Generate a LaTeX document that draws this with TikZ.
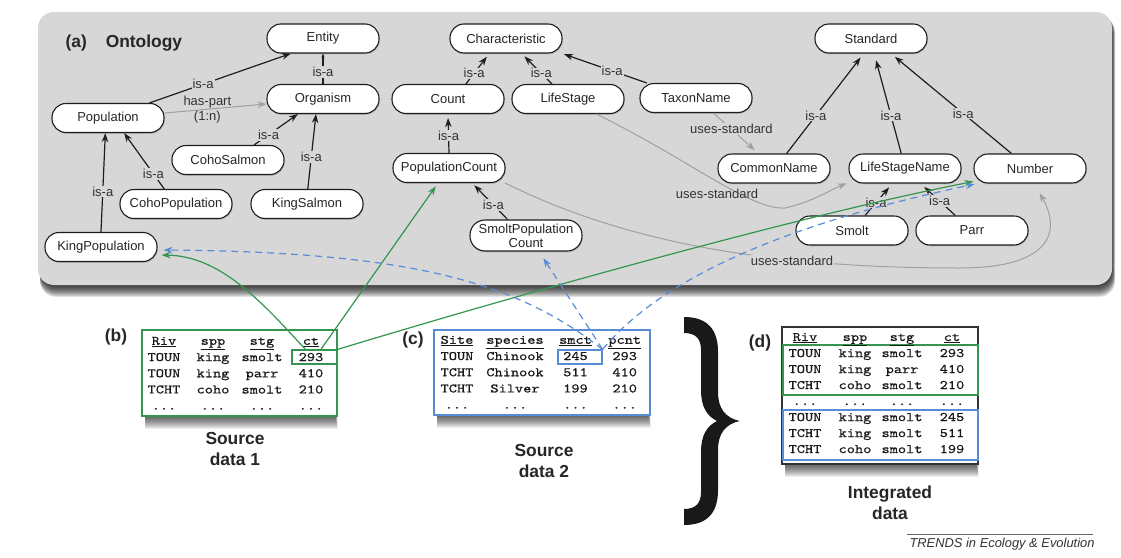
\documentclass[tikz,border=0pt]{standalone}
\usepackage{fontspec}
\setmainfont{Liberation Sans}
\setmonofont[FakeStretch=1.2,FakeBold=0.6]{lmmono10-regular.otf}
\usetikzlibrary{arrows.meta,shadows}

\definecolor{panel}{RGB}{215,215,215}
\definecolor{gline}{RGB}{160,160,160}
\definecolor{grn}{RGB}{52,150,78}
\definecolor{blu}{RGB}{88,140,215}
\definecolor{dark}{RGB}{30,30,30}

\tikzset{
 onto/.style={draw=dark, line width=1.1pt, fill=white, rounded corners=14pt,
   minimum width=112pt, minimum height=29pt, inner sep=0pt, align=center,
   font=\fontsize{13}{14}\selectfont, text=black!85,
   drop shadow={shadow xshift=0.7pt, shadow yshift=-1.4pt, opacity=0.35}},
 tip/.style={-{Stealth[length=9pt,width=6.5pt]}},
 isa/.style={draw=dark, line width=1.2pt, tip},
 lbl/.style={fill=panel, inner sep=1pt, font=\fontsize{13}{14}\selectfont, text=black!80},
 lbltx/.style={inner sep=1pt, font=\fontsize{13}{14}\selectfont, text=black!80},
 uses/.style={draw=gline, line width=1pt, tip},
 glink/.style={draw=grn, line width=1.2pt, tip},
 blink/.style={draw=blu, line width=1.2pt, dash pattern=on 7pt off 5pt, tip},
 col/.style={font=\ttfamily\fontsize{13}{16.2}\selectfont, inner sep=0pt, text=black!90},
 cold/.style={font=\ttfamily\fontsize{13}{16}\selectfont, inner sep=0pt, text=black!90},
 head/.style={font=\bfseries\fontsize{17.4}{21.5}\selectfont, align=center, text=black!85},
 frame/.style={fill=white, inner sep=0pt},
}

\begin{document}
\begin{tikzpicture}[x=1pt,y=-1pt]
\useasboundingbox (0,0) rectangle (1121,557);
\fill[white] (0,0) rectangle (1121,557);

% ontology panel with shadow
\foreach \i in {1,...,12}{\fill[black,opacity=0.1,rounded corners=16pt] (40,16) rectangle (1112+0.25*\i,285+\i);}
\fill[panel,rounded corners=16pt] (38,12) rectangle (1112,285);

\node[head, anchor=west] (title) at (62,43) {(a)\hspace{19pt}Ontology};

% ontology nodes
\node[onto] (Entity) at (323,38.5) {Entity};
\node[onto] (Organism) at (323,99) {Organism};
\node[onto] (Population) at (108,118) {Population};
\node[onto] (CohoSalmon) at (228,160) {CohoSalmon};
\node[onto] (CohoPopulation) at (176,204) {CohoPopulation};
\node[onto] (KingSalmon) at (307,204) {KingSalmon};
\node[onto] (KingPopulation) at (101,247) {KingPopulation};
\node[onto] (Characteristic) at (506,38.5) {Characteristic};
\node[onto] (Count) at (448,99) {Count};
\node[onto] (LifeStage) at (568,99) {LifeStage};
\node[onto] (TaxonName) at (696,98) {TaxonName};
\node[onto] (PopulationCount) at (449,168) {PopulationCount};
\node[onto, minimum height=31pt, rounded corners=15pt] (SmoltPopulationCount) at (526,235.5) {SmoltPopulation\\Count};
\node[onto] (Standard) at (871,38.5) {Standard};
\node[onto] (CommonName) at (774,168.5) {CommonName};
\node[onto] (LifeStageName) at (905,168.5) {LifeStageName};
\node[onto] (Number) at (1030,168.5) {Number};
\node[onto] (Smolt) at (852,230.5) {Smolt};
\node[onto] (Parr) at (972,230.5) {Parr};

% uses-standard (gray) links
\draw[uses, shorten >=5pt] (TaxonName.319) -- node[lbl,pos=0.4]{uses-standard} (CommonName.136);
\draw[uses, shorten >=2pt] (LifeStage.332) .. controls (690,160) and (750,210) .. (785,208)
   .. controls (812,202) and (830,190) .. (LifeStageName.194);
\node[lbltx] (us1) at (717,194) {uses-standard};
\draw[uses, shorten >=11pt] (PopulationCount.345) .. controls (620,240) and (760,268) .. (960,268)
   .. controls (1050,268) and (1062,232) .. (Number.285);
\node[lbl] (us2) at (792,261) {uses-standard};
\draw[uses] (Population.5) -- node[lbltx,above=0pt,pos=0.42]{has-part} node[lbltx,below=0pt,pos=0.42]{(1:n)} (Organism.185);

% is-a links
\draw[isa] (Population.20) -- node[lbl,pos=0.38]{is-a} (Entity.205);
\draw[isa, -{Stealth[length=4pt,width=3pt]}] (Organism.north) -- node[lbl,pos=0.4]{is-a} (Entity.south);
\draw[isa] (CohoSalmon.30) -- node[lbl,pos=0.33]{is-a} (Organism.211);
\draw[isa] (KingSalmon.87) -- node[lbl,pos=0.43]{is-a} (Organism.245);
\draw[isa] (CohoPopulation.128) -- node[lbl,pos=0.27]{is-a} (Population.317);
\draw[isa] (KingPopulation.north) -- node[lbl,pos=0.41]{is-a} (Population.260);
\draw[isa, shorten >=4pt] (Count.40) -- node[lbl,pos=0.35]{is-a} (Characteristic.222);
\draw[isa, shorten >=4pt] (LifeStage.137) -- node[lbl,pos=0.35]{is-a} (Characteristic.316);
\draw[isa, shorten >=2pt] (TaxonName.163) -- node[lbl,pos=0.41]{is-a} (Characteristic.345);
\draw[isa, shorten >=4pt] (PopulationCount.north) -- node[lbl,pos=0.45]{is-a} (Count.south);
\draw[isa, shorten >=3pt] (SmoltPopulationCount.139) -- node[lbl,pos=0.4]{is-a} (PopulationCount.327);
\draw[isa, shorten >=5pt] (CommonName.50) -- node[lbl,pos=0.38]{is-a} (Standard.244);
\draw[isa, shorten >=7pt] (LifeStageName.104) -- node[lbl,pos=0.38]{is-a} (Standard.282);
\draw[isa, shorten >=5pt] (Number.141) -- node[lbl,pos=0.4]{is-a} (Standard.323);
\draw[isa, shorten >=5pt] (Smolt.49) -- node[lbl,pos=0.4]{is-a} (LifeStageName.230);
\draw[isa, shorten >=5pt] (Parr.138) -- node[lbl,pos=0.45]{is-a} (LifeStageName.316);

% table shadows
\foreach \i in {1,...,13}{
  \fill[black,opacity=0.065] (145,380) rectangle (335+0.2*\i,416+\i);
  \fill[black,opacity=0.065] (437,380) rectangle (648+0.2*\i,415+\i);
  \fill[black,opacity=0.065] (785,420) rectangle (976+0.2*\i,464+\i);
}

% table (b)
\node[frame, draw=grn, line width=1.5pt, minimum width=195pt, minimum height=86pt] (bframe) at (239.5,373) {};
\node[head] (blabel) at (116,337) {(b)};
\node[col] (b1) at (164,374) {\begin{tabular}{@{}c@{}}\underline{Riv}\\TOUN\\TOUN\\TCHT\\...\end{tabular}};
\node[col] (b2) at (213,374) {\begin{tabular}{@{}c@{}}\underline{spp}\\king\\king\\coho\\...\end{tabular}};
\node[col] (b3) at (262,374) {\begin{tabular}{@{}c@{}}\underline{stg}\\smolt\\parr\\smolt\\...\end{tabular}};
\node[col] (b4) at (311,374) {\begin{tabular}{@{}c@{}}\underline{ct}\\293\\410\\210\\...\end{tabular}};
\node[draw=grn, line width=1.2pt, minimum width=45pt, minimum height=14pt, inner sep=0pt] (c293) at (314.5,357) {};
\node[head] (s1) at (235,449) {Source\\data 1};

% table (c)
\node[frame, draw=blu, line width=1.5pt, minimum width=216pt, minimum height=85pt] (cframe) at (542,372.5) {};
\node[head] (clabel) at (413,340) {(c)};
\node[col] (c1) at (457,373) {\begin{tabular}{@{}c@{}}\underline{Site}\\TOUN\\TCHT\\TCHT\\...\end{tabular}};
\node[col] (c2) at (515,373) {\begin{tabular}{@{}c@{}}\underline{species}\\Chinook\\Chinook\\Silver\\...\end{tabular}};
\node[col] (c3) at (575.5,373) {\begin{tabular}{@{}c@{}}\underline{smct}\\245\\511\\199\\...\end{tabular}};
\node[col] (c4) at (624.7,373) {\begin{tabular}{@{}c@{}}\underline{pcnt}\\293\\410\\210\\...\end{tabular}};
\node[draw=blu, line width=1.2pt, minimum width=44pt, minimum height=14pt, inner sep=0pt] (c245) at (580,357) {};
\node[head] (s2) at (544,461) {Source\\data 2};

% brace
\fill[black!90] (684,317) .. controls (708,317) and (718,330) .. (718,352)
  -- (718,392) .. controls (718,408) and (725,418) .. (740,421)
  .. controls (725,424) and (718,434) .. (718,450)
  -- (718,490) .. controls (718,512) and (708,525) .. (684,525)
  -- (684,509) .. controls (696,509) and (701,503) .. (701,492)
  -- (701,452) .. controls (701,435) and (707,426) .. (717,421)
  .. controls (707,416) and (701,407) .. (701,390)
  -- (701,350) .. controls (701,339) and (696,333) .. (684,333) -- cycle;

% table (d)
\node[frame, draw=black!80, line width=1.2pt, minimum width=196pt, minimum height=137pt] (dframe) at (880,395.5) {};
\node[draw=grn, line width=1.2pt, minimum width=195pt, minimum height=50pt, inner sep=0pt] (dgreen) at (880.5,370) {};
\node[draw=blu, line width=1.2pt, minimum width=195pt, minimum height=50pt, inner sep=0pt] (dblue) at (880.5,435) {};
\node[head] (dlabel) at (760,343) {(d)};
\node[cold] (d1) at (805,393.8) {\begin{tabular}{@{}c@{}}\underline{Riv}\\TOUN\\TOUN\\TCHT\\...\\TOUN\\TCHT\\TCHT\end{tabular}};
\node[cold] (d2) at (855,393.8) {\begin{tabular}{@{}c@{}}\underline{spp}\\king\\king\\coho\\...\\king\\king\\coho\end{tabular}};
\node[cold] (d3) at (902,393.8) {\begin{tabular}{@{}c@{}}\underline{stg}\\smolt\\parr\\smolt\\...\\smolt\\smolt\\smolt\end{tabular}};
\node[cold] (d4) at (952,393.8) {\begin{tabular}{@{}c@{}}\underline{ct}\\293\\410\\210\\...\\245\\511\\199\end{tabular}};
\node[head] (s3) at (890,503) {Integrated\\data};

% mapping links: source data 1 (green)
\draw[glink, shorten >=4pt] (c293.140) .. controls (260,300) and (220,256) .. (KingPopulation.-8);
\draw[glink, shorten >=4pt] (c293.50) -- (PopulationCount.234);
\draw[glink] (c293.north east) .. controls (500,300) and (800,215) .. (Number.193);

% mapping links: source data 2 (blue dashed)
\draw[blink, shorten >=6pt] (c245.north east) .. controls (520,285) and (420,252) .. (KingPopulation.-3);
\draw[blink, shorten >=8pt] (c245.north east) -- (SmoltPopulationCount.309);
\draw[blink, shorten >=3pt] (c245.north east) .. controls (660,280) and (780,225) .. (Number.196);

% footer
\node[font=\itshape\fontsize{12.9}{14}\selectfont, text=black!80] (trends) at (1002,544.5) {TRENDS in Ecology \& Evolution};
\draw[black!60, line width=0.6pt] (907,534) -- (1093,534);
\end{tikzpicture}
\end{document}
